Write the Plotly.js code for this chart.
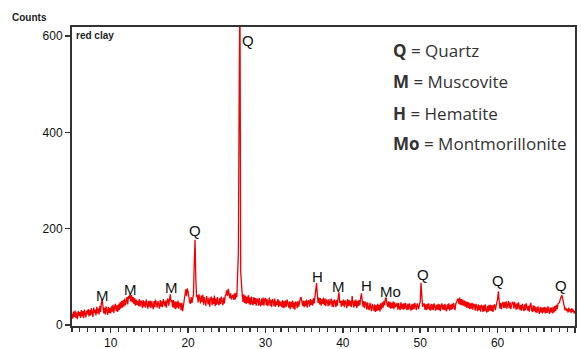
<!DOCTYPE html>
<html>
<head>
<meta charset="utf-8">
<script src="https://cdn.plot.ly/plotly-3.0.1.min.js"></script>
<style>html,body{margin:0;padding:0;background:#fff;}#chart{width:581px;height:349px;}</style>
</head>
<body>
<div id="chart"></div>
<script>
// 2-theta from 5.0 to 70.0 in 0.1 deg steps
const startAngle = 5.0;
const stepAngle = 0.1;
const countsText = `
24 13 28 17 30 15 26 12 29 19
27 15 31 18 29 14 32 21 16 30
22 33 18 31 20 35 24 17 36 25
32 20 38 24 34 22 40 27 46 54
40 24 36 22 39 27 21 38 25 35
24 39 28 42 25 38 44 29 41 27
43 31 47 34 50 36 52 38 55 41
50 58 43 60 55 64 49 62 47 58
44 56 40 53 42 50 39 54 38 51
48 35 52 38 49 36 53 39 34 50
38 51 35 49 40 33 50 37 53 41
36 50 40 34 52 38 49 37 54 42
39 51 36 50 55 40 58 64 48 52
37 52 35 49 33 48 36 51 34 46
44 31 46 29 40 52 64 74 60 76
70 55 48 44 58 46 56 64 130 177
95 58 62 47 64 50 45 61 48 63
42 58 46 40 60 47 43 57 38 54
59 41 56 44 61 39 55 42 58 45
41 56 44 59 46 41 57 45 61 64
72 60 75 62 56 66 53 59 63 52
66 53 67 58 90 150 470 720 110 66
62 48 64 46 61 44 59 46 62 43
57 42 59 45 41 58 44 56 40 55
53 40 56 43 39 55 42 57 40 54
56 41 54 39 53 57 40 52 37 54
50 39 55 38 49 42 54 37 51 40
48 37 52 35 50 36 51 38 53 39
36 49 33 48 37 51 34 47 32 49
46 35 50 38 52 55 58 47 40 51
37 50 39 53 36 49 51 38 54 42
52 40 56 45 60 76 87 64 46 57
43 56 40 54 44 57 41 55 39 53
50 39 54 41 49 55 38 51 37 53
49 37 52 40 58 68 46 50 38 51
40 53 37 51 48 35 54 39 52 40
50 37 60 49 36 51 39 53 35 50
39 52 41 56 66 52 38 50 35 48
45 32 47 35 31 46 34 29 44 32
30 43 27 41 29 44 31 42 28 45
33 47 36 50 41 54 57 44 38 49
36 48 34 46 35 49 33 47 37 42
45 32 46 35 31 47 34 44 32 45
33 46 35 31 44 32 45 34 30 43
32 44 33 46 34 31 45 35 33 44
48 88 62 38 42 45 32 43 31 44
33 45 34 30 44 32 43 31 45 33
30 42 32 44 31 43 29 41 45 32
42 31 44 32 29 43 33 45 30 42
32 44 33 46 35 31 45 47 53 55
44 57 42 54 41 53 40 51 38 49
36 48 35 47 33 45 34 46 32 44
42 30 44 32 29 43 31 41 28 42
39 27 41 29 43 30 26 40 28 42
30 42 29 41 27 40 43 31 44 47
54 70 50 34 46 33 44 48 35 47
36 49 34 46 50 35 47 33 45 48
46 34 48 36 32 45 33 47 35 31
42 30 44 32 29 43 31 45 33 30
40 28 42 46 31 27 41 29 40 26
37 25 39 27 23 38 26 36 24 37
26 38 24 36 25 39 27 23 37 26
36 24 38 26 40 29 42 33 44 46
47 54 58 62 56 45 40 31 36 29
34 26 36 28 33 25 35 27 32 24
29`;
const counts = countsText.trim().split(/\s+/).map(Number);
const twoTheta = counts.map((_, i) => +(startAngle + i * stepAngle).toFixed(1));

// Peak labels
const peakLabels = ['M', 'M', 'M', 'Q', 'Q', 'H', 'M', 'H', 'Mo', 'Q', 'Q', 'Q'];
const peakLabelX = [8.9, 12.5, 17.8, 20.9, 27.7, 36.7, 39.5, 43.0, 46.1, 50.4, 60.0, 68.2];
const peakLabelY = [62, 73, 79, 196, 590, 100, 81, 83, 69, 104, 92, 83];

// Legend key
const keySymbols = ['Q', 'M', 'H', 'Mo'];
const keyNames = ['Quartz', 'Muscovite', 'Hematite', 'Montmorillonite'];

const xTickVals = [10, 20, 30, 40, 50, 60, 70];
const yTickVals = [0, 200, 400, 600];

const annotations = [];
peakLabels.forEach((t, i) => {
  annotations.push({
    text: t, x: peakLabelX[i], y: peakLabelY[i], xref: 'x', yref: 'y',
    showarrow: false, font: {family: 'Liberation Sans, Arial, sans-serif', size: 15, color: '#111'}
  });
});
const keyY = [0.923, 0.819, 0.712, 0.609];
keySymbols.forEach((s, i) => {
  annotations.push({
    text: '<b>' + s + '</b> = ' + keyNames[i], x: 0.634, y: keyY[i], xref: 'paper', yref: 'paper',
    xanchor: 'left', yanchor: 'middle', showarrow: false,
    font: {family: 'Open Sans, sans-serif', size: 17, color: '#333'}
  });
});
annotations.push({
  text: '<b>Counts</b>', x: -0.046, y: 1.0, xref: 'paper', yref: 'paper', xanchor: 'right', yanchor: 'bottom',
  yshift: 2, showarrow: false, font: {family: 'Liberation Sans, Arial, sans-serif', size: 10, color: '#222'}
});
annotations.push({
  text: '<b>red clay</b>', x: 0.003, y: 0.997, xref: 'paper', yref: 'paper', xanchor: 'left', yanchor: 'top',
  showarrow: false, font: {family: 'Liberation Sans, Arial, sans-serif', size: 10, color: '#222'}
});

const trace = {
  x: twoTheta, y: counts, type: 'scatter', mode: 'lines',
  line: {color: '#f00000', width: 1.3}, cliponaxis: true, hoverinfo: 'skip'
};

const layout = {
  width: 581, height: 349,
  margin: {l: 72, r: 6, t: 27, b: 23},
  paper_bgcolor: '#fff', plot_bgcolor: '#fff',
  showlegend: false,
  font: {family: 'Liberation Sans, Arial, sans-serif', size: 12, color: '#111'},
  xaxis: {
    range: [5, 70], tickvals: xTickVals, ticktext: xTickVals.map(String),
    ticks: 'outside', ticklen: 5, tickwidth: 1.5, tickcolor: '#333',
    showline: true, linecolor: '#333', linewidth: 2, mirror: true,
    showgrid: false, zeroline: false,
    minor: {dtick: 1, tick0: 5, ticks: 'outside', ticklen: 4, tickwidth: 1.2, tickcolor: '#333', showgrid: false},
    tickfont: {size: 12, color: '#111'}
  },
  yaxis: {
    range: [-2, 619], tickvals: yTickVals, ticktext: yTickVals.map(String),
    ticks: 'outside', ticklen: 5, tickwidth: 1.5, tickcolor: '#333',
    showline: true, linecolor: '#333', linewidth: 2, mirror: true,
    showgrid: false, zeroline: false, tickfont: {size: 12, color: '#111'}
  },
  annotations: annotations
};

Plotly.newPlot('chart', [trace], layout, {staticPlot: true, displayModeBar: false});
</script>
</body>
</html>
